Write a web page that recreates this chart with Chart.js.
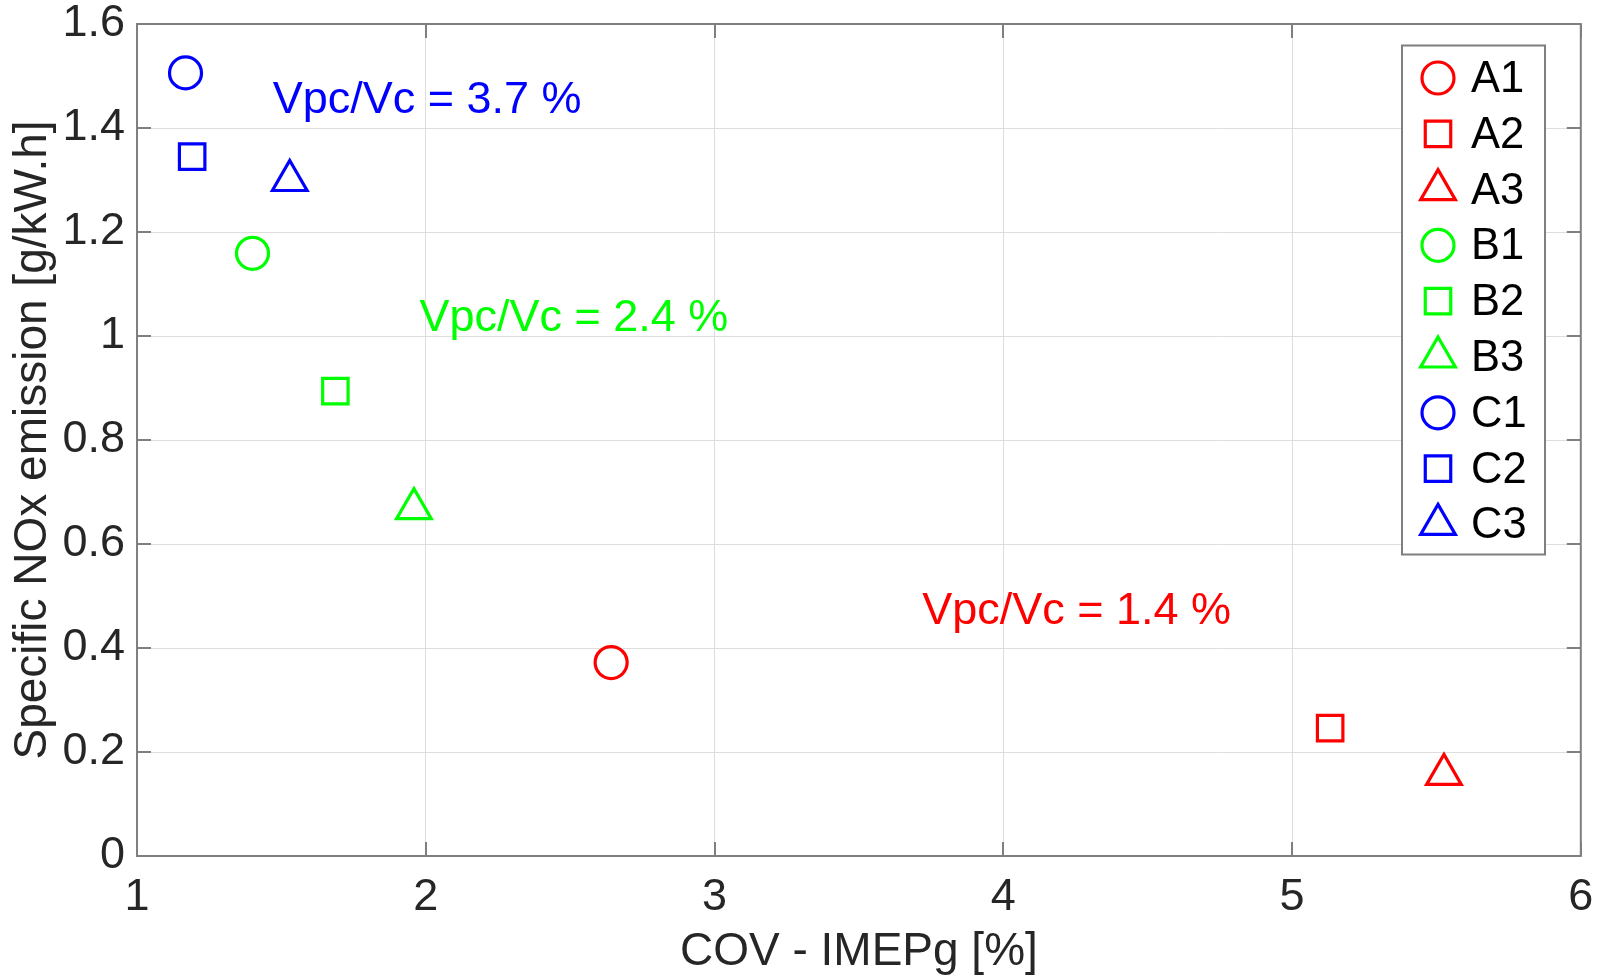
<!DOCTYPE html>
<html>
<head>
<meta charset="utf-8">
<title>Specific NOx emission vs COV - IMEPg</title>
<script src="https://cdn.jsdelivr.net/npm/chart.js@4.4.1/dist/chart.umd.min.js"></script>
<style>
  html, body { margin: 0; padding: 0; background: #fff; }
  #noxChart { display: block; }
</style>
</head>
<body>
<canvas id="noxChart" width="1604" height="980"></canvas>
<script>
// ---------- datos ----------
const pointLabels = ['A1', 'A2', 'A3', 'B1', 'B2', 'B3', 'C1', 'C2', 'C3'];
const covImep     = [2.642, 5.132, 5.526, 1.40, 1.687, 1.959, 1.168, 1.191, 1.529];
const noxEmission = [0.372, 0.246, 0.157, 1.159, 0.894, 0.668, 1.506, 1.345, 1.299];

const xTickLabels = ['1', '2', '3', '4', '5', '6'];
const yTickLabels = ['0', '0.2', '0.4', '0.6', '0.8', '1', '1.2', '1.4', '1.6'];

const ratioTexts = ['Vpc/Vc = 3.7 %', 'Vpc/Vc = 2.4 %', 'Vpc/Vc = 1.4 %'];

// ---------- estilos ----------
const RED = '#ff0000', GREEN = '#00ff00', BLUE = '#0000ff';
const seriesColors  = [RED, RED, RED, GREEN, GREEN, GREEN, BLUE, BLUE, BLUE];
const seriesMarkers = ['circle', 'rect', 'triangle', 'circle', 'rect', 'triangle', 'circle', 'rect', 'triangle'];
const markerRadius  = { circle: 16, rect: 18, triangle: 20 };
const ratioColors   = [BLUE, GREEN, RED];
const ratioAnchors  = [[1.470, 1.429], [1.978, 1.010], [3.719, 0.446]]; // donde empieza cada texto (coords de datos)

const FONT = "'Liberation Sans', Arial, Helvetica, sans-serif";
const AXIS_COLOR = '#262626';
const BOX_COLOR = '#7f7f7f';
const GRID_COLOR = '#dedede';

// marcador simple (para la leyenda)
const drawMarker = (ctx, style, x, y, r) => {
    ctx.beginPath();
    if (style === 'circle') {
        ctx.arc(x, y, r, 0, Math.PI * 2);
    } else if (style === 'rect') {
        const s = Math.SQRT1_2 * r;
        ctx.rect(x - s, y - s, 2 * s, 2 * s);
    } else {
        const a = Math.PI * 2 / 3;
        ctx.moveTo(x, y - r);
        ctx.lineTo(x + Math.sin(a) * r, y - Math.cos(a) * r);
        ctx.lineTo(x - Math.sin(a) * r, y - Math.cos(a) * r);
        ctx.closePath();
    }
    ctx.stroke();
};

// caja de ejes con ticks hacia adentro (estilo MATLAB)
const boxAxes = {
    id: 'boxAxes',
    afterDatasetsDraw(chart) {
        const { ctx, chartArea: a, scales: { x, y } } = chart;
        const TL = 14;
        ctx.save();
        ctx.strokeStyle = BOX_COLOR;
        ctx.lineWidth = 2;
        ctx.beginPath();
        x.ticks.forEach(t => {
            const px = Math.round(x.getPixelForValue(t.value));
            ctx.moveTo(px, a.bottom); ctx.lineTo(px, a.bottom - TL);
            ctx.moveTo(px, a.top);    ctx.lineTo(px, a.top + TL);
        });
        y.ticks.forEach(t => {
            const py = Math.round(y.getPixelForValue(t.value));
            ctx.moveTo(a.left, py);  ctx.lineTo(a.left + TL, py);
            ctx.moveTo(a.right, py); ctx.lineTo(a.right - TL, py);
        });
        ctx.stroke();
        ctx.strokeRect(a.left, a.top, a.right - a.left, a.bottom - a.top);
        ctx.restore();
    }
};

// textos Vpc/Vc
const ratioNotes = {
    id: 'ratioNotes',
    afterDatasetsDraw(chart) {
        const { ctx, scales: { x, y } } = chart;
        ctx.save();
        ctx.font = `45px ${FONT}`;
        ctx.textAlign = 'left';
        ctx.textBaseline = 'alphabetic';
        ratioTexts.forEach((txt, i) => {
            ctx.fillStyle = ratioColors[i];
            ctx.fillText(txt, x.getPixelForValue(ratioAnchors[i][0]), y.getPixelForValue(ratioAnchors[i][1]));
        });
        ctx.restore();
    }
};

// leyenda dentro del area, arriba a la derecha
const boxLegend = {
    id: 'boxLegend',
    afterDraw(chart) {
        const { ctx } = chart;
        const left = 1402, top = 45.5, w = 143, rowH = 55.8;
        const h = 554.5 - top;
        ctx.save();
        ctx.fillStyle = '#fff';
        ctx.fillRect(left, top, w, h);
        ctx.strokeStyle = BOX_COLOR;
        ctx.lineWidth = 2;
        ctx.strokeRect(left, top, w, h);
        ctx.font = `43.5px ${FONT}`;
        ctx.textAlign = 'left';
        ctx.textBaseline = 'middle';
        chart.data.datasets.forEach((ds, i) => {
            const cy = top + 32.5 + i * rowH;
            ctx.strokeStyle = seriesColors[i];
            ctx.lineWidth = 3.2;
            drawMarker(ctx, seriesMarkers[i], left + 36, cy, markerRadius[seriesMarkers[i]]);
            ctx.fillStyle = '#000';
            ctx.fillText(ds.label, left + 69, cy + 2);
        });
        ctx.restore();
    }
};

const ctx = document.getElementById('noxChart').getContext('2d');

new Chart(ctx, {
    type: 'scatter',
    data: {
        datasets: pointLabels.map((lbl, i) => ({
            label: lbl,
            data: [{ x: covImep[i], y: noxEmission[i] }],
            pointStyle: seriesMarkers[i],
            pointRadius: markerRadius[seriesMarkers[i]],
            pointHoverRadius: markerRadius[seriesMarkers[i]],
            borderColor: seriesColors[i],
            backgroundColor: 'rgba(0,0,0,0)',
            borderWidth: 3.2
        }))
    },
    options: {
        responsive: false,
        animation: false,
        layout: { padding: { top: 24, right: 23, left: 0, bottom: 0 } },
        plugins: {
            legend: { display: false },
            tooltip: { enabled: false }
        },
        scales: {
            x: {
                type: 'linear',
                min: 1,
                max: 6,
                ticks: {
                    stepSize: 1,
                    padding: 15,
                    color: AXIS_COLOR,
                    font: { family: FONT, size: 45 },
                    callback: (v) => xTickLabels[Math.round(v - 1)]
                },
                grid: { color: GRID_COLOR, lineWidth: 1, drawTicks: false },
                border: { display: false },
                title: {
                    display: true,
                    text: 'COV - IMEPg [%]',
                    color: AXIS_COLOR,
                    font: { family: FONT, size: 46 },
                    padding: { top: 0, bottom: 0 }
                },
                afterFit: (scale) => {
                    scale.height = 124;
                    scale.paddingLeft = 0; scale.paddingRight = 0;
                }
            },
            y: {
                type: 'linear',
                min: 0,
                max: 1.6,
                ticks: {
                    stepSize: 0.2,
                    padding: 12,
                    color: AXIS_COLOR,
                    font: { family: FONT, size: 45 },
                    callback: (v) => yTickLabels[Math.round(v / 0.2)]
                },
                grid: { color: GRID_COLOR, lineWidth: 1, drawTicks: false },
                border: { display: false },
                title: {
                    display: true,
                    text: 'Specific NOx emission [g/kW.h]',
                    color: AXIS_COLOR,
                    font: { family: FONT, size: 46 },
                    padding: { top: 6, bottom: 0 }
                },
                afterFit: (scale) => {
                    scale.width = 137;
                    scale.paddingTop = 0; scale.paddingBottom = 0;
                }
            }
        }
    },
    plugins: [boxAxes, ratioNotes, boxLegend]
});
</script>
</body>
</html>
